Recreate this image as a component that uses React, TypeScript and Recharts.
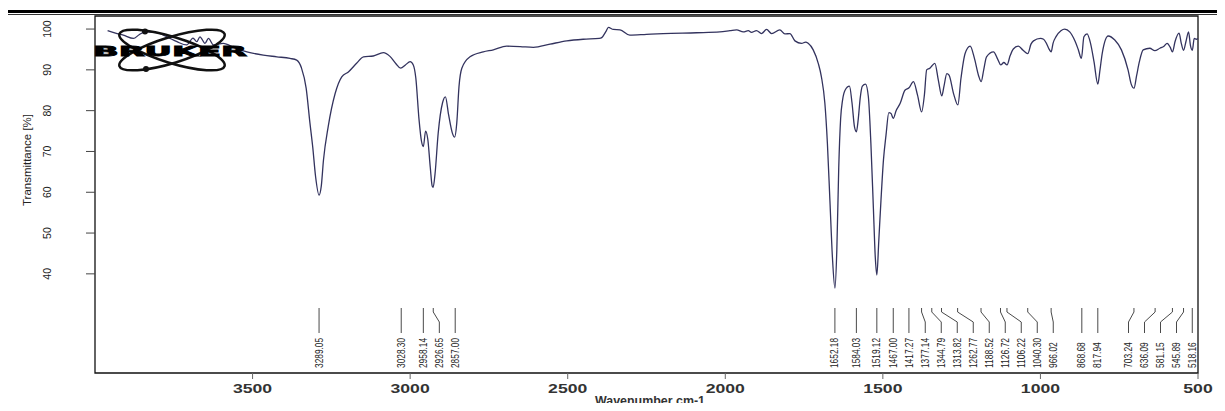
import React from "react";
import {
  ComposedChart,
  Line,
  Scatter,
  XAxis,
  YAxis,
  ReferenceArea,
} from "recharts";

// spectrum (cm-1, %T), high to low wavenumber
const wavenumbers = [
  3960, 3935, 3910, 3878, 3860, 3841, 3804, 3772, 3740, 3709, 3689, 3677, 3667, 3651, 3640, 3624,
  3593, 3555, 3518, 3466, 3423, 3381, 3360, 3345, 3330, 3318, 3309, 3300, 3289, 3282, 3275, 3260,
  3238, 3217, 3196, 3170, 3148, 3117, 3085, 3064, 3045, 3030, 3015, 3000, 2990, 2982, 2972, 2964,
  2958, 2951, 2944, 2936, 2930, 2927, 2921, 2911, 2897, 2888, 2878, 2866, 2859, 2852, 2845, 2836,
  2810, 2768, 2736, 2694, 2651, 2609, 2556, 2503, 2451, 2400, 2392, 2378, 2371, 2355, 2334, 2303,
  2250, 2197, 2091, 2017, 1985, 1964, 1943, 1927, 1917, 1901, 1885, 1869, 1853, 1827, 1811, 1795,
  1779, 1758, 1745, 1737, 1721, 1705, 1695, 1684, 1676, 1668, 1660, 1652, 1646, 1640, 1634, 1628,
  1620, 1606, 1598, 1590, 1584, 1578, 1572, 1565, 1555, 1546, 1538, 1530, 1524, 1519, 1513, 1506,
  1498, 1490, 1481, 1474, 1467, 1458, 1445, 1430, 1417, 1403, 1390, 1377, 1368, 1361, 1351, 1344,
  1335, 1324, 1313, 1306, 1297, 1290, 1275, 1262, 1252, 1239, 1223, 1210, 1196, 1188, 1180, 1171,
  1149, 1135, 1126, 1116, 1106, 1096, 1086, 1070, 1055, 1040, 1030, 1022, 1000, 990, 981, 972,
  966, 960, 950, 935, 923, 907, 890, 880, 870, 862, 852, 841, 830, 818, 811, 804, 785, 764, 743,
  722, 712, 703, 695, 686, 674, 653, 637, 621, 608, 598, 588, 581, 573, 560, 553, 546, 538, 530,
  524, 518, 512, 505, 500,
];
const transmittance = [
  99.6, 99.0, 98.5, 97.7, 98.6, 99.3, 99.1, 98.1, 96.9, 96.1, 97.8, 96.9, 98.1, 96.5, 97.7, 96.1,
  96.5, 95.3, 94.4, 93.6, 93.2, 92.8, 92.4, 90.5, 85.5, 77.0, 71.0, 63.8, 59.3, 61.5, 67.9, 76.1,
  84.2, 88.3, 89.5, 91.6, 93.2, 93.4, 94.2, 93.3, 91.5, 90.4, 91.2, 92.0, 91.2, 88.0, 78.0, 72.5,
  71.2, 75.0, 73.0, 66.0, 61.5, 61.2, 64.5, 74.5, 82.0, 83.4, 79.0, 74.5, 73.5, 77.0, 85.9, 90.4,
  93.2, 94.4, 94.9, 95.8, 95.7, 95.5, 96.3, 97.1, 97.5, 97.7, 97.9, 99.5, 100.4, 99.9, 99.8, 98.5,
  98.7, 98.9, 99.1, 99.3, 99.6, 99.8, 99.3, 99.6, 99.2, 99.6, 98.9, 99.9, 98.9, 99.8, 98.8, 98.9,
  97.1, 96.5, 96.8, 96.5, 94.9, 91.6, 88.3, 81.8, 72.0, 58.0, 44.0, 36.5, 46.0, 66.0, 78.0, 82.5,
  85.0, 86.0, 82.0, 76.0, 74.8, 78.0, 83.0, 86.0, 86.5, 83.4, 72.0, 56.0, 44.0, 39.7, 48.0, 58.0,
  68.0, 74.0, 79.5, 79.3, 78.1, 80.0, 81.8, 85.0, 85.6, 87.1, 83.8, 79.7, 84.0, 90.0, 90.4, 91.0,
  91.6, 87.5, 83.6, 86.0, 89.1, 88.7, 84.0, 81.4, 88.0, 94.0, 95.8, 93.0, 88.5, 87.1, 90.0, 93.2,
  94.4, 92.5, 91.2, 91.8, 91.2, 93.5, 95.1, 95.8, 94.8, 94.0, 96.3, 97.1, 97.7, 97.5, 96.5, 95.0,
  94.4, 96.5, 98.2, 99.6, 100.0, 99.3, 97.0, 95.0, 92.8, 98.1, 98.8, 96.5, 92.0, 86.5, 90.0, 94.0,
  98.3, 97.3, 94.9, 90.0, 86.5, 85.5, 88.5, 92.0, 94.9, 95.3, 94.7, 95.3, 95.8, 96.5, 95.5, 94.4,
  96.9, 99.0, 96.5, 94.8, 97.0, 99.3, 96.0, 94.8, 97.7, 97.5, 97.7,
];

const peakWavenumbers = [
  3289.05, 3028.3, 2958.14, 2926.65, 2857.0, 1652.18, 1584.03, 1519.12, 1467.0, 1417.27, 1377.14,
  1344.79, 1313.82, 1262.77, 1188.52, 1126.72, 1106.22, 1040.3, 966.02, 868.68, 817.94, 703.24,
  636.09, 581.15, 545.89, 518.16,
];

const xTicks = [3500, 3000, 2500, 2000, 1500, 1000, 500];
const yTicks = [40, 50, 60, 70, 80, 90, 100];

const W = 1225;
const H = 411;
const MARGIN = { top: 16, right: 27, bottom: 8, left: 35 };
const Y_AXIS_W = 60;
const X_AXIS_H = 30;
const X_MIN = 500;
const X_MAX = 4000;
const Y_MIN = 15.7;
const Y_MAX = 103.2;

const plotW = W - MARGIN.left - MARGIN.right - Y_AXIS_W;
const pxPerWn = plotW / (X_MAX - X_MIN);

const spectrum = wavenumbers.map((wn, i) => ({ wn, t: transmittance[i] }));

// spread the peak labels so they don't overlap (16px apart), like OPUS does
const LABEL_GAP = 16;
const peakPx = peakWavenumbers.map((w) => (X_MAX - w) * pxPerWn);
const labelPx = [...peakPx];
for (let i = 1; i < labelPx.length; i++) {
  labelPx[i] = Math.max(labelPx[i], labelPx[i - 1] + LABEL_GAP);
}
labelPx[labelPx.length - 1] = Math.min(labelPx[labelPx.length - 1], plotW - 5.5);
for (let i = labelPx.length - 2; i >= 0; i--) {
  labelPx[i] = Math.min(labelPx[i], labelPx[i + 1] - LABEL_GAP);
}
const peaks = peakWavenumbers.map((wn, i) => ({
  wn,
  t: Y_MIN,
  label: wn.toFixed(2),
  dx: labelPx[i] - peakPx[i],
}));

const PeakMark = (props: any) => {
  const { cx, cy, payload } = props;
  if (cx == null || cy == null) return null;
  const top = cy - 65;
  const lx = cx + payload.dx;
  const bent = Math.abs(payload.dx) > 1.5;
  const path = bent
    ? `M${cx},${top} L${cx},${top + 4} L${lx},${top + 14} L${lx},${top + 25}`
    : `M${cx},${top} L${cx},${top + 25}`;
  return (
    <g>
      <path d={path} stroke="#4a4a4a" strokeWidth={1} fill="none" />
      <text
        x={lx + 3.5}
        y={cy - 5}
        transform={`rotate(-90 ${lx + 3.5} ${cy - 5})`}
        fontSize={10}
        fontFamily="'Liberation Sans Narrow', 'Arial Narrow', 'Liberation Sans', sans-serif"
        fill="#222"
        textLength={payload.label.length * 4.3}
        lengthAdjust="spacingAndGlyphs"
      >
        {payload.label}
      </text>
    </g>
  );
};

const XTick = (props: any) => {
  const { x, y, payload } = props;
  const s = String(payload.value);
  return (
    <text
      x={x}
      y={y + 12}
      textAnchor="middle"
      fontSize={12.5}
      fontWeight="bold"
      fontFamily="'Liberation Sans', Arial, sans-serif"
      fill="#333"
      textLength={s.length * 9.8}
      lengthAdjust="spacingAndGlyphs"
    >
      {s}
    </text>
  );
};

const YTick = (props: any) => {
  const { x, y, payload } = props;
  return (
    <text
      x={x}
      y={y}
      transform={`rotate(-90 ${x} ${y})`}
      textAnchor="middle"
      dominantBaseline="central"
      fontSize={10.5}
      fontFamily="'Liberation Sans', Arial, sans-serif"
      fill="#222"
    >
      {payload.value}
    </text>
  );
};

export default function App() {
  return (
    <div
      style={{
        margin: -8,
        position: "relative",
        width: W,
        height: H,
        background: "#fff",
        overflow: "hidden",
      }}
    >
      <ComposedChart width={W} height={H} margin={MARGIN}>
        <XAxis
          type="number"
          dataKey="wn"
          domain={[X_MIN, X_MAX]}
          reversed
          allowDataOverflow
          ticks={xTicks}
          tick={<XTick />}
          tickSize={6}
          tickLine={{ stroke: "#666" }}
          axisLine={false}
          height={X_AXIS_H}
        />
        <YAxis
          type="number"
          dataKey="t"
          domain={[Y_MIN, Y_MAX]}
          allowDataOverflow
          ticks={yTicks}
          tick={<YTick />}
          tickSize={9}
          tickMargin={39}
          tickLine={{ stroke: "#444" }}
          axisLine={false}
          width={Y_AXIS_W}
        />
        <ReferenceArea
          x1={X_MAX}
          x2={X_MIN}
          y1={Y_MIN}
          y2={Y_MAX}
          fill="none"
          stroke="#111"
          strokeWidth={1.3}
        />
        <Scatter
          data={peaks}
          dataKey="t"
          shape={<PeakMark />}
          isAnimationActive={false}
        />
        <Line
          data={spectrum}
          dataKey="t"
          type="monotone"
          stroke="#33335e"
          strokeWidth={1.3}
          dot={false}
          activeDot={false}
          isAnimationActive={false}
        />
      </ComposedChart>
      <svg
        width={W}
        height={H}
        style={{ position: "absolute", left: 0, top: 0, pointerEvents: "none" }}
      >
        <rect x={6.5} y={11.5} width={1240} height={420} fill="none" stroke="#000" strokeWidth={3} />
        <line x1={6} y1={14.5} x2={W} y2={14.5} stroke="#333" strokeWidth={1} />
        <text
          x={27}
          y={160}
          transform="rotate(-90 27 160)"
          textAnchor="middle"
          dominantBaseline="central"
          fontSize={11.5}
          fontFamily="'Liberation Sans', Arial, sans-serif"
          fill="#222"
          textLength={92}
          lengthAdjust="spacingAndGlyphs"
        >
          Transmittance [%]
        </text>
        <text
          x={650}
          y={405}
          textAnchor="middle"
          fontSize={12}
          fontWeight="bold"
          fontFamily="'Liberation Sans', Arial, sans-serif"
          fill="#333"
          textLength={110}
          lengthAdjust="spacingAndGlyphs"
        >
          Wavenumber cm-1
        </text>
        {/* Bruker logo */}
        <g stroke="#111" strokeWidth={2.5} fill="none">
          <ellipse cx={172} cy={50} rx={55} ry={13} transform="rotate(17 172 50)" />
          <ellipse cx={172} cy={50} rx={55} ry={13} transform="rotate(-17 172 50)" />
        </g>
        <circle cx={145} cy={31.5} r={3} fill="#111" />
        <circle cx={146} cy={69} r={3} fill="#111" />
        <text
          x={93}
          y={56}
          fontSize={14.5}
          fontWeight={900}
          fontFamily="'DejaVu Sans', sans-serif"
          fill="#000"
          stroke="#000"
          strokeWidth={0.9}
          textLength={154}
          lengthAdjust="spacingAndGlyphs"
        >
          BRUKER
        </text>
      </svg>
    </div>
  );
}
